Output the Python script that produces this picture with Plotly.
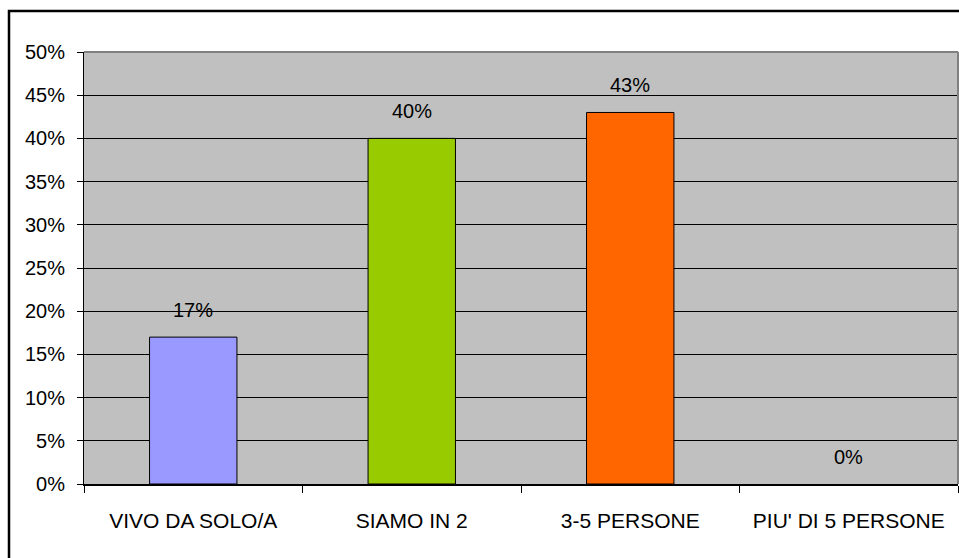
import plotly.graph_objects as go

categories = ["VIVO DA SOLO/A", "SIAMO IN 2", "3-5 PERSONE", "PIU' DI 5 PERSONE"]
values = [0.17, 0.40, 0.43, 0.00]
bar_colors = ["#9999FF", "#99CC00", "#FF6600", "#C0C0C0"]
bar_line_widths = [1, 1, 1, 0]
y_ticks = [i / 100 for i in range(0, 55, 5)]
y_tick_text = [f"{i}%" for i in range(0, 55, 5)]
value_labels = [f"{round(v * 100)}%" for v in values]

W, H = 959, 558
L, R, T, B = 84, 1, 52, 74
FONT = "Liberation Sans, Arial, sans-serif"

fig = go.Figure()
fig.add_trace(go.Bar(
    x=categories,
    y=values,
    width=0.4,
    marker=dict(color=bar_colors, line=dict(color="black", width=bar_line_widths)),
    hoverinfo="skip",
))

for c, v, t in zip(categories, values, value_labels):
    fig.add_annotation(
        x=c, y=v, text=t, showarrow=False,
        xref="x", yref="y", yanchor="middle", yshift=27,
        font=dict(family=FONT, size=20, color="black"),
    )

pw = W - L - R
ph = H - T - B

def px_x(p):
    return (p - L) / pw

def px_y(p):
    return (H - B - p) / ph

# outer chart frame
fig.add_shape(type="rect", xref="paper", yref="paper",
              x0=px_x(9), x1=px_x(W + 20), y0=px_y(11), y1=px_y(H + 20),
              line=dict(color="black", width=2.5), fillcolor="rgba(0,0,0,0)",
              layer="above")
# plot area top and right border
fig.add_shape(type="line", xref="paper", yref="paper",
              x0=0, x1=1, y0=1, y1=1,
              line=dict(color="#808080", width=2), layer="above")
fig.add_shape(type="line", xref="paper", yref="paper",
              x0=1, x1=1, y0=0, y1=1,
              line=dict(color="#808080", width=2), layer="above")

fig.update_layout(
    width=W, height=H,
    margin=dict(l=L, r=R, t=T, b=B),
    paper_bgcolor="white",
    plot_bgcolor="#C0C0C0",
    showlegend=False,
    font=dict(family=FONT, size=20, color="black"),
    bargap=0.6,
)
fig.update_xaxes(
    type="category",
    showline=True, linecolor="black", linewidth=2,
    ticks="outside", tickson="boundaries", ticklen=7, tickcolor="black",
    tickfont=dict(family=FONT, size=21, color="black"),
    tickangle=0, automargin=False,
    ticklabelstandoff=17,
    showgrid=False, zeroline=False, fixedrange=True,
)
fig.update_yaxes(
    range=[0, 0.5],
    tickvals=y_ticks, ticktext=y_tick_text,
    showline=True, linecolor="black", linewidth=1,
    ticks="outside", ticklen=6, tickcolor="black",
    ticklabelstandoff=8, automargin=False,
    tickfont=dict(family=FONT, size=20, color="black"),
    showgrid=True, gridcolor="black", gridwidth=1,
    zeroline=False, fixedrange=True,
)

fig.write_html("out.html")
